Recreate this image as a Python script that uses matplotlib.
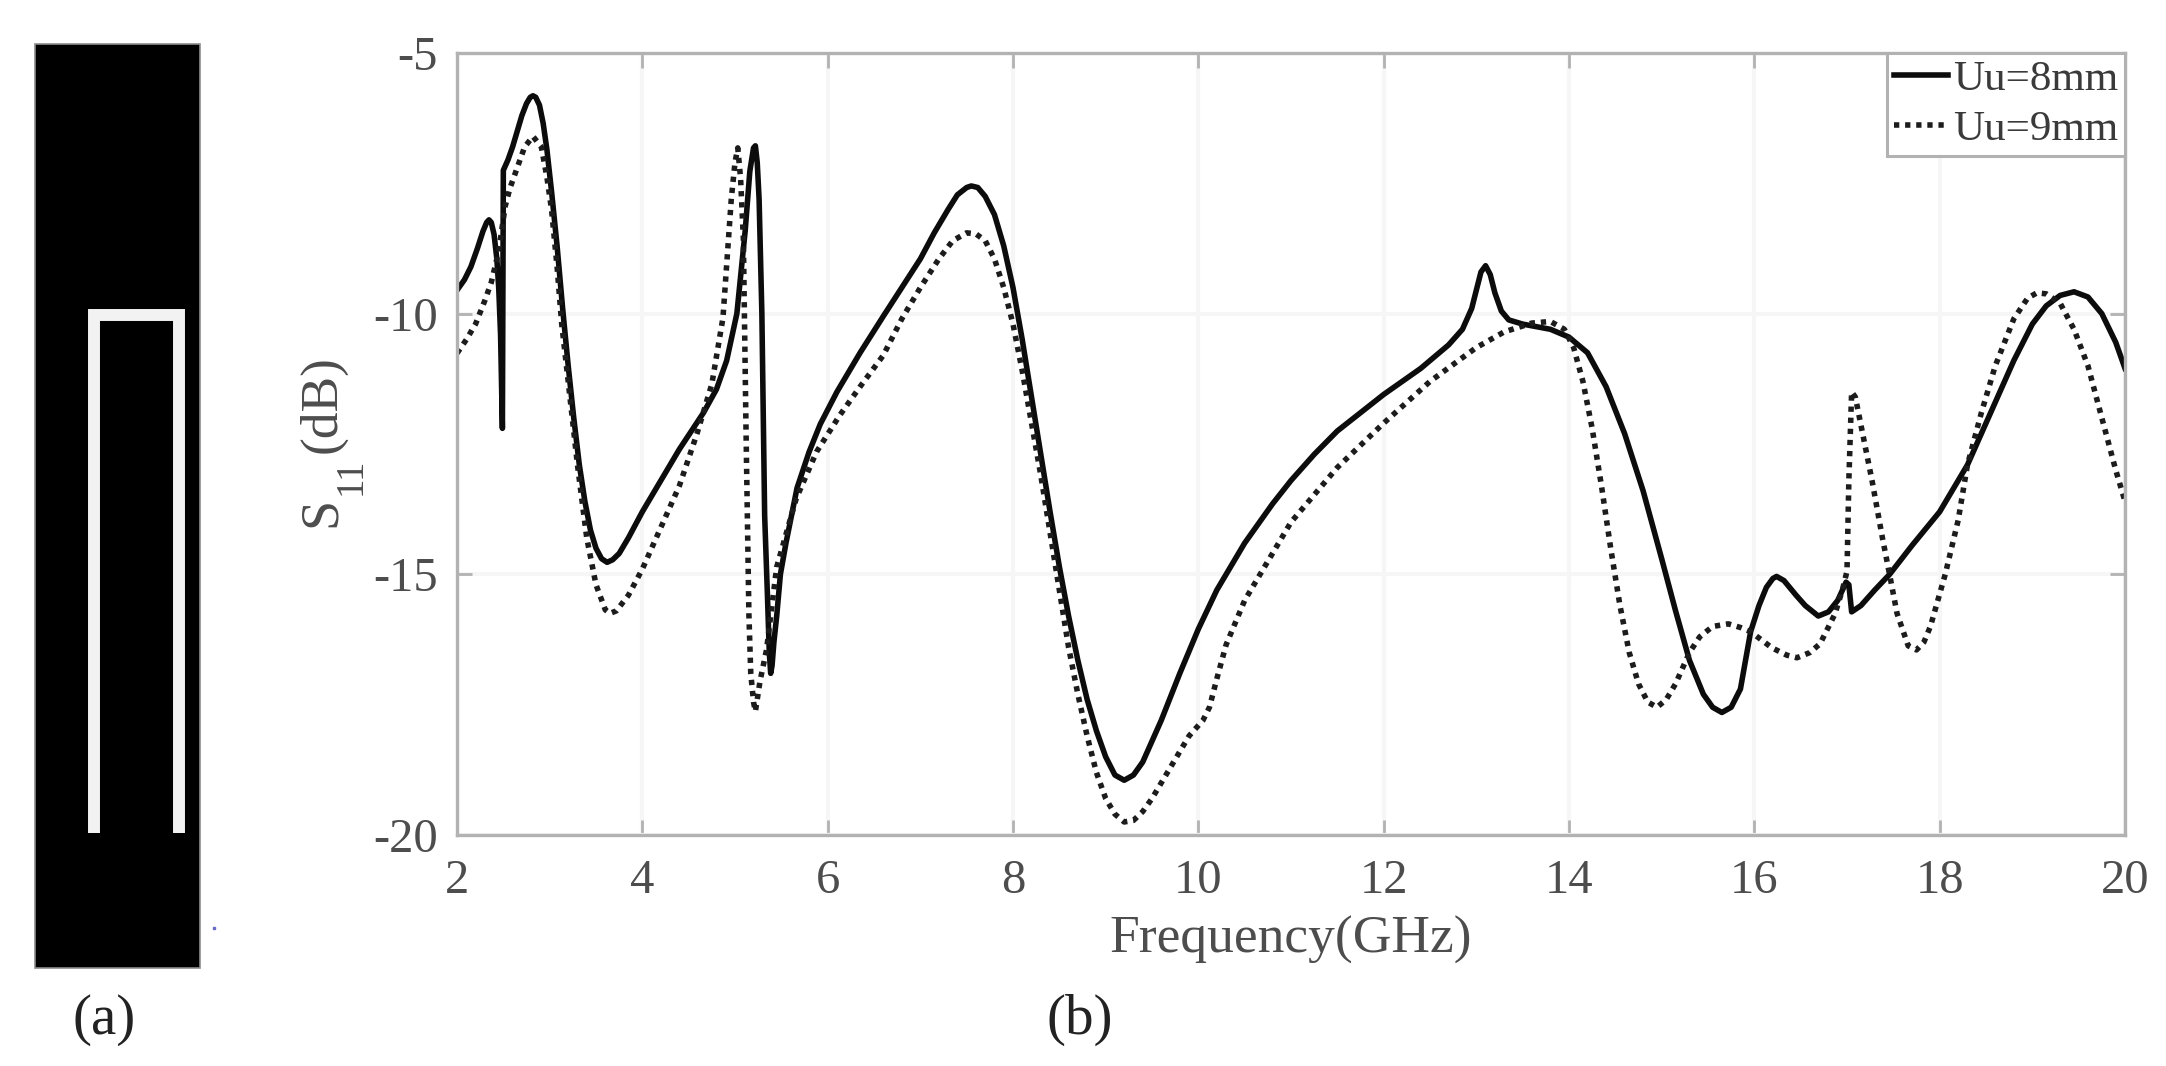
import matplotlib
matplotlib.use("Agg")
import matplotlib.pyplot as plt
from matplotlib.patches import Rectangle

plt.rcParams['font.family'] = ['Liberation Serif', 'DejaVu Serif']
plt.rcParams['axes.unicode_minus'] = False

W, H = 2166, 1066
x_ticks = [2, 4, 6, 8, 10, 12, 14, 16, 18, 20]
y_ticks = [-20, -15, -10, -5]

f8 = [2.0, 2.08, 2.15, 2.22, 2.28, 2.32, 2.345, 2.37, 2.40, 2.43, 2.45, 2.47, 2.49, 2.50, 2.55, 2.6, 2.65, 2.7, 2.75, 2.79, 2.82, 2.85, 2.89, 2.93, 2.97, 3.02, 3.08, 3.14, 3.2, 3.26, 3.32, 3.38, 3.44, 3.5, 3.56, 3.62, 3.68, 3.75, 3.85, 4.0, 4.2, 4.4, 4.66, 4.8, 4.91, 5.02, 5.11, 5.16, 5.2, 5.22, 5.24, 5.26, 5.29, 5.32, 5.35, 5.37, 5.385, 5.40, 5.42, 5.45, 5.49, 5.55, 5.67, 5.8, 5.92, 6.1, 6.35, 6.6, 6.8, 7.0, 7.15, 7.3, 7.4, 7.5, 7.55, 7.62, 7.7, 7.8, 7.9, 8.0, 8.1, 8.2, 8.3, 8.4, 8.5, 8.6, 8.7, 8.8, 8.9, 9.0, 9.1, 9.2, 9.3, 9.4, 9.5, 9.6, 9.8, 10.0, 10.2, 10.5, 10.8, 11.0, 11.25, 11.5, 11.75, 12.0, 12.4, 12.7, 12.85, 12.95, 13.0, 13.05, 13.1, 13.15, 13.2, 13.27, 13.35, 13.5, 13.8, 14.0, 14.2, 14.4, 14.6, 14.8, 15.0, 15.15, 15.3, 15.45, 15.55, 15.65, 15.75, 15.85, 15.96, 16.05, 16.13, 16.2, 16.24, 16.32, 16.45, 16.55, 16.69, 16.8, 16.9, 16.99, 17.02, 17.05, 17.15, 17.3, 17.46, 17.7, 18.0, 18.15, 18.3, 18.45, 18.6, 18.8, 19.0, 19.15, 19.3, 19.45, 19.6, 19.75, 19.9, 20.0]
s8 = [-9.55, -9.35, -9.1, -8.75, -8.42, -8.25, -8.2, -8.25, -8.48, -8.95, -9.5, -10.4, -12.2, -7.25, -7.05, -6.8, -6.5, -6.2, -5.97, -5.85, -5.82, -5.85, -6.0, -6.35, -6.85, -7.65, -8.7, -9.9, -11.0, -12.0, -12.9, -13.6, -14.15, -14.5, -14.7, -14.77, -14.72, -14.6, -14.3, -13.8, -13.2, -12.6, -11.9, -11.45, -10.9, -10.0, -8.41, -7.27, -6.82, -6.78, -7.1, -7.8, -10.0, -13.87, -15.4, -16.5, -16.9, -16.75, -16.3, -15.8, -15.0, -14.4, -13.34, -12.65, -12.12, -11.5, -10.75, -10.05, -9.5, -8.95, -8.45, -8.0, -7.72, -7.58, -7.55, -7.58, -7.75, -8.1, -8.7, -9.5, -10.5, -11.6, -12.7, -13.8, -14.85, -15.8, -16.65, -17.4, -18.0, -18.5, -18.85, -18.95, -18.85, -18.6, -18.2, -17.8, -16.9, -16.05, -15.3, -14.4, -13.65, -13.2, -12.7, -12.25, -11.9, -11.55, -11.05, -10.6, -10.3, -9.9, -9.55, -9.2, -9.08, -9.25, -9.6, -9.95, -10.12, -10.2, -10.3, -10.45, -10.75, -11.4, -12.3, -13.4, -14.7, -15.7, -16.65, -17.3, -17.55, -17.65, -17.55, -17.2, -16.1, -15.6, -15.25, -15.08, -15.04, -15.12, -15.4, -15.6, -15.8, -15.72, -15.5, -15.15, -15.2, -15.72, -15.6, -15.3, -15.0, -14.45, -13.8, -13.35, -12.9, -12.3, -11.7, -10.9, -10.2, -9.85, -9.65, -9.58, -9.68, -10.0, -10.55, -11.05]

f9 = [2.0, 2.1, 2.2, 2.3, 2.37, 2.45, 2.52, 2.57, 2.65, 2.73, 2.82, 2.91, 2.97, 3.02, 3.08, 3.13, 3.2, 3.3, 3.4, 3.5, 3.6, 3.65, 3.72, 3.85, 4.0, 4.2, 4.4, 4.59, 4.75, 4.87, 4.96, 5.0, 5.03, 5.06, 5.09, 5.12, 5.15, 5.17, 5.2, 5.22, 5.27, 5.34, 5.45, 5.66, 5.88, 6.13, 6.35, 6.6, 6.8, 7.0, 7.2, 7.35, 7.5, 7.6, 7.7, 7.8, 7.9, 8.0, 8.1, 8.2, 8.3, 8.4, 8.5, 8.6, 8.7, 8.8, 8.9, 9.0, 9.1, 9.2, 9.3, 9.4, 9.5, 9.7, 9.9, 10.05, 10.12, 10.2, 10.3, 10.5, 10.8, 11.0, 11.5, 12.0, 12.5, 13.0, 13.3, 13.6, 13.8, 13.95, 14.05, 14.15, 14.25, 14.35, 14.45, 14.55, 14.65, 14.75, 14.85, 14.95, 15.05, 15.15, 15.3, 15.41, 15.55, 15.72, 15.85, 15.96, 16.19, 16.35, 16.46, 16.6, 16.71, 16.87, 16.95, 17.0, 17.02, 17.05, 17.09, 17.18, 17.27, 17.38, 17.47, 17.54, 17.66, 17.75, 17.83, 17.9, 18.06, 18.2, 18.3, 18.45, 18.6, 18.8, 18.95, 19.05, 19.15, 19.3, 19.45, 19.6, 19.75, 19.9, 20.0]
s9 = [-10.76, -10.5, -10.2, -9.75, -9.4, -8.8, -7.94, -7.6, -7.2, -6.8, -6.6, -6.8, -7.38, -8.0, -9.1, -10.2, -11.3, -12.9, -14.3, -15.2, -15.68, -15.75, -15.7, -15.4, -14.9, -14.1, -13.3, -12.3, -11.35, -10.08, -7.8, -7.1, -6.82, -7.4, -8.55, -12.35, -15.77, -16.9, -17.45, -17.63, -17.05, -16.45, -14.86, -13.55, -12.65, -11.95, -11.4, -10.8, -10.1, -9.5, -8.95, -8.6, -8.45, -8.47, -8.6, -8.95, -9.5, -10.2, -11.1, -12.1, -13.1, -14.2, -15.3, -16.4, -17.3, -18.1, -18.8, -19.3, -19.6, -19.75, -19.72, -19.55, -19.3, -18.7, -18.1, -17.8, -17.55, -17.0, -16.35, -15.5, -14.6, -14.0, -12.95, -12.1, -11.3, -10.65, -10.35, -10.18, -10.15, -10.3, -10.65, -11.3, -12.2, -13.3, -14.5, -15.6, -16.5, -17.1, -17.45, -17.55, -17.4, -17.1, -16.5, -16.2, -16.0, -15.95, -16.02, -16.1, -16.41, -16.55, -16.6, -16.5, -16.33, -15.76, -15.3, -14.94, -13.2, -11.5, -11.6, -12.4, -13.2, -14.28, -15.1, -15.75, -16.37, -16.45, -16.3, -16.0, -15.0, -13.96, -12.9, -11.9, -11.0, -10.1, -9.7, -9.6, -9.62, -9.8, -10.3, -11.0, -12.0, -13.0, -13.6]

fig = plt.figure(figsize=(W / 100, H / 100), dpi=100, facecolor='white')

def box(l, t, r, b):
    return [l / W, 1 - b / H, (r - l) / W, (b - t) / H]

# left schematic panel and stray mark, in pixel coordinates
pic = fig.add_axes([0, 0, 1, 1], zorder=0)
pic.set_xlim(0, W)
pic.set_ylim(H, 0)
pic.axis('off')
pic.add_patch(Rectangle((34.5, 44), 165.5, 924, facecolor='black', edgecolor='#8c8c8c', lw=1.2))
pic.plot([93.5, 93.5, 179, 179], [833, 315, 315, 833], color='#f2f2f2', lw=8.6,
         solid_joinstyle='miter', solid_capstyle='butt')
pic.plot([214], [928], marker='s', ms=2, color='#6a6ac8', ls='none')

ax = fig.add_axes(box(457, 53, 2125, 835), zorder=1)
ax.patch.set_alpha(0)
GRAY = '#b2b2b2'
TXT = '#4d4d4d'
ax.plot(f8, s8, color='#0c0c0c', lw=4, solid_joinstyle='round', label='Uu=8mm')
ax.plot(f9, s9, color='#1c1c1c', lw=4, ls=(0, (0.95, 1.05)), label='Uu=9mm')
ax.set_xlim(2, 20)
ax.set_ylim(-20, -5)
ax.set_xticks(x_ticks)
ax.set_yticks(y_ticks)
ax.grid(color='#f6f6f6', lw=3)
ax.set_axisbelow(True)
ax.tick_params(axis='both', labelsize=35, labelcolor=TXT, color=GRAY, direction='in', length=11, width=2,
               top=True, right=True)
ax.tick_params(axis='x', pad=17)
ax.tick_params(axis='y', pad=14)
for s in ax.spines.values():
    s.set_color(GRAY)
    s.set_linewidth(2.4)
fig.text(1290.5 / W, 1 - 953 / H, 'Frequency(GHz)', fontsize=38.5, color=TXT, ha='center', va='baseline')

# y label, set piece by piece so the subscript sits as low as in the reference
for label, px, py, size in [('S', 335, 527, 39), ('11', 361, 495, 28), ('(dB)', 335, 453, 38.5)]:
    fig.text(px / W, 1 - py / H, label, fontsize=size, color=TXT, rotation=90, rotation_mode='anchor',
             ha='left', va='baseline')

leg = ax.legend(loc='upper right', bbox_to_anchor=(1, 1), fontsize=31, frameon=True, fancybox=False,
                edgecolor=GRAY, framealpha=1, borderpad=0.16, labelspacing=0.26, handlelength=1.25,
                handletextpad=0.12, borderaxespad=0, labelcolor='#3a3a3a')
leg.get_frame().set_linewidth(2.2)

fig.text(104 / W, 1 - 1020 / H, '(a)', fontsize=41, color='#222222', ha='center', va='center')
fig.text(1080 / W, 1 - 1020 / H, '(b)', fontsize=41, color='#222222', ha='center', va='center')
fig.savefig('out.png', dpi=100)
